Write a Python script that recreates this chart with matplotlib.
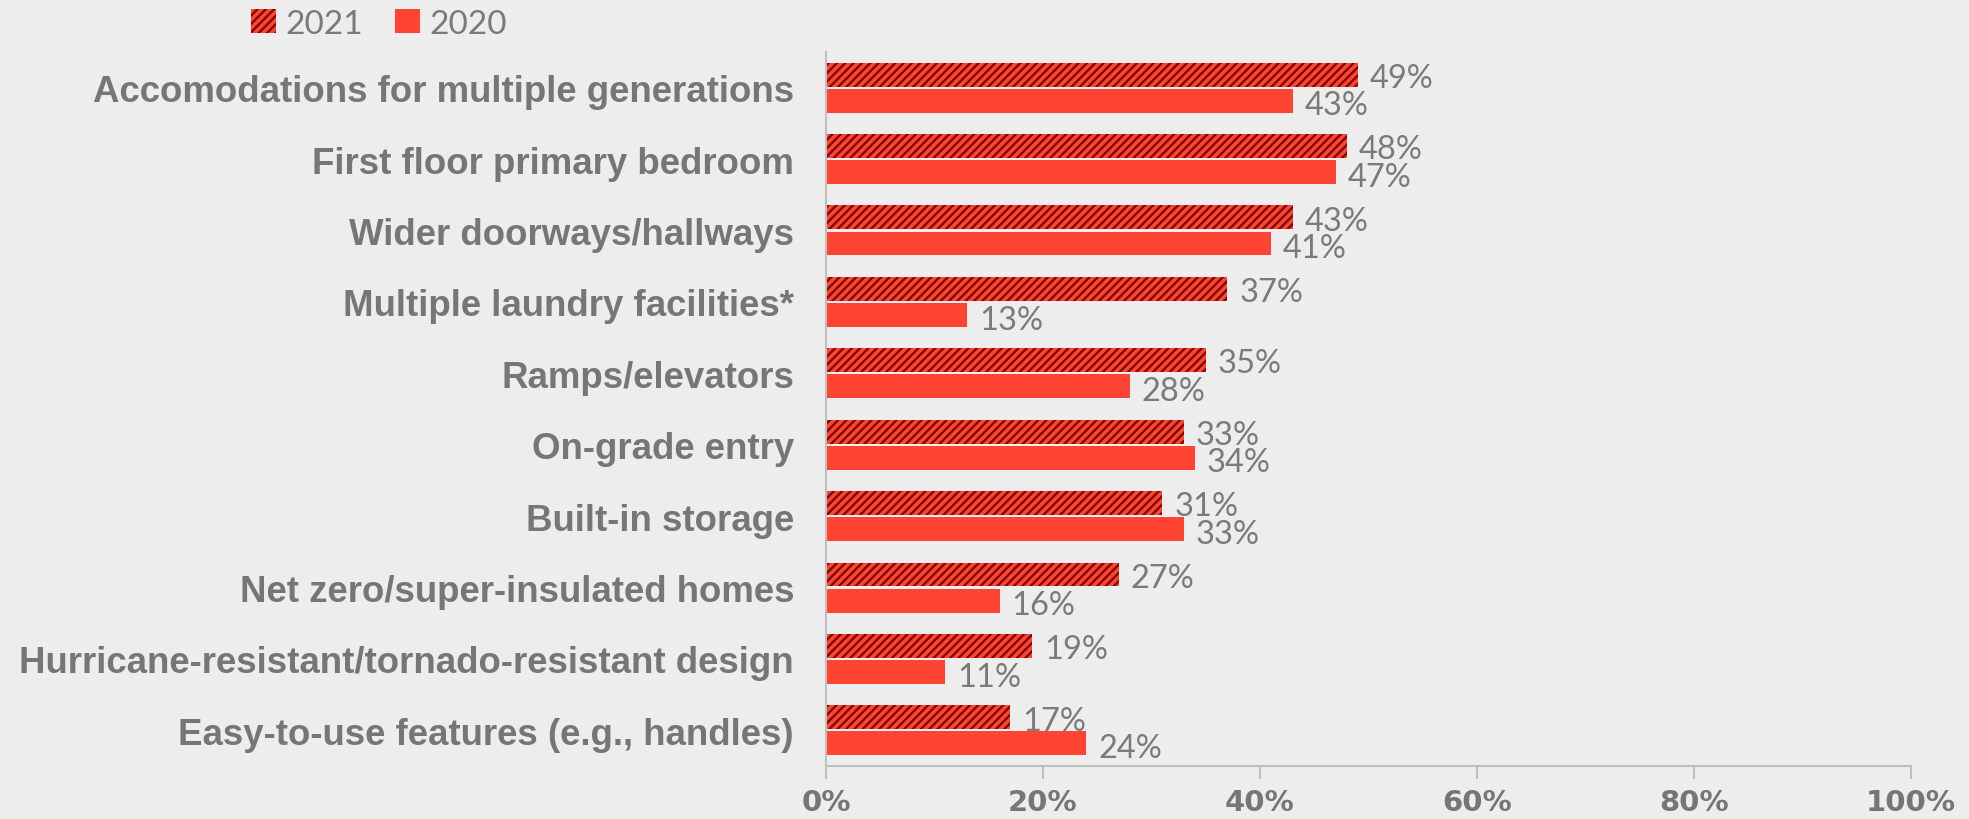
import numpy as np
import matplotlib.pyplot as plt

# Categories (top to bottom) and values (%)
categories = ['Accomodations for multiple generations', 'First floor primary bedroom',
              'Wider doorways/hallways', 'Multiple laundry facilities*', 'Ramps/elevators',
              'On-grade entry', 'Built-in storage', 'Net zero/super-insulated homes',
              'Hurricane-resistant/tornado-resistant design',
              'Easy-to-use features (e.g., handles)']
vals_2021 = [49, 48, 43, 37, 35, 33, 31, 27, 19, 17]
vals_2020 = [43, 47, 41, 13, 28, 34, 33, 16, 11, 24]
xticks = [0, 20, 40, 60, 80, 100]

red = '#FF4433'
dark = '#7A0A00'
grey = '#767676'
bg = '#EDEDED'

plt.rcParams['hatch.linewidth'] = 1.7

fig = plt.figure(figsize=(19.69, 8.2), dpi=100, facecolor=bg)
ax = fig.add_axes([0.4195, 0.0646, 0.551, 0.8708], facecolor=bg)

y = np.arange(len(categories))
h = 0.335
ax.barh(y - h / 2 - 0.015, vals_2021, h, facecolor=red, hatch='////', edgecolor=dark,
        linewidth=0, label='2021')
ax.barh(y + h / 2 + 0.015, vals_2020, h, color=red, linewidth=0, label='2020')

# data labels
lab_font = dict(fontsize=23.5, color='#7a7a7a', family='Lato')
for i, (a, b) in enumerate(zip(vals_2021, vals_2020)):
    ax.text(a + 1.1, i - h / 2 + 0.03, f'{a}%', va='center', ha='left', **lab_font)
    ax.text(b + 1.1, i + h / 2 + 0.08, f'{b}%', va='center', ha='left', **lab_font)

ax.set_ylim(len(categories) - 0.5, -0.5)
ax.set_xlim(0, 100)
ax.set_yticks(y)
ax.set_yticklabels(categories, fontsize=26.4, fontweight='bold', color=grey,
                   family='Liberation Sans')
ax.tick_params(axis='y', length=0, pad=23)
ax.set_xticks(xticks)
ax.set_xticklabels([f'{t}%' for t in xticks], fontsize=21, fontweight='bold', color=grey)
ax.tick_params(axis='x', length=9, color='#BFBFBF', width=1.5, pad=7)

for s in ['top', 'right']:
    ax.spines[s].set_visible(False)
ax.spines['left'].set_color('#BFBFBF')
ax.spines['bottom'].set_color('#BFBFBF')
ax.spines['left'].set_linewidth(1.5)
ax.spines['bottom'].set_linewidth(1.5)

leg = fig.legend(loc='upper left', bbox_to_anchor=(0.112, 1.025), ncol=2, frameon=False,
                 prop={'family': 'Lato', 'size': 24},
                 handlelength=0.75, handleheight=0.75, handletextpad=0.3, columnspacing=0.95)
for t in leg.get_texts():
    t.set_color('#7a7a7a')

fig.savefig('out.png', dpi=100, facecolor=bg)
